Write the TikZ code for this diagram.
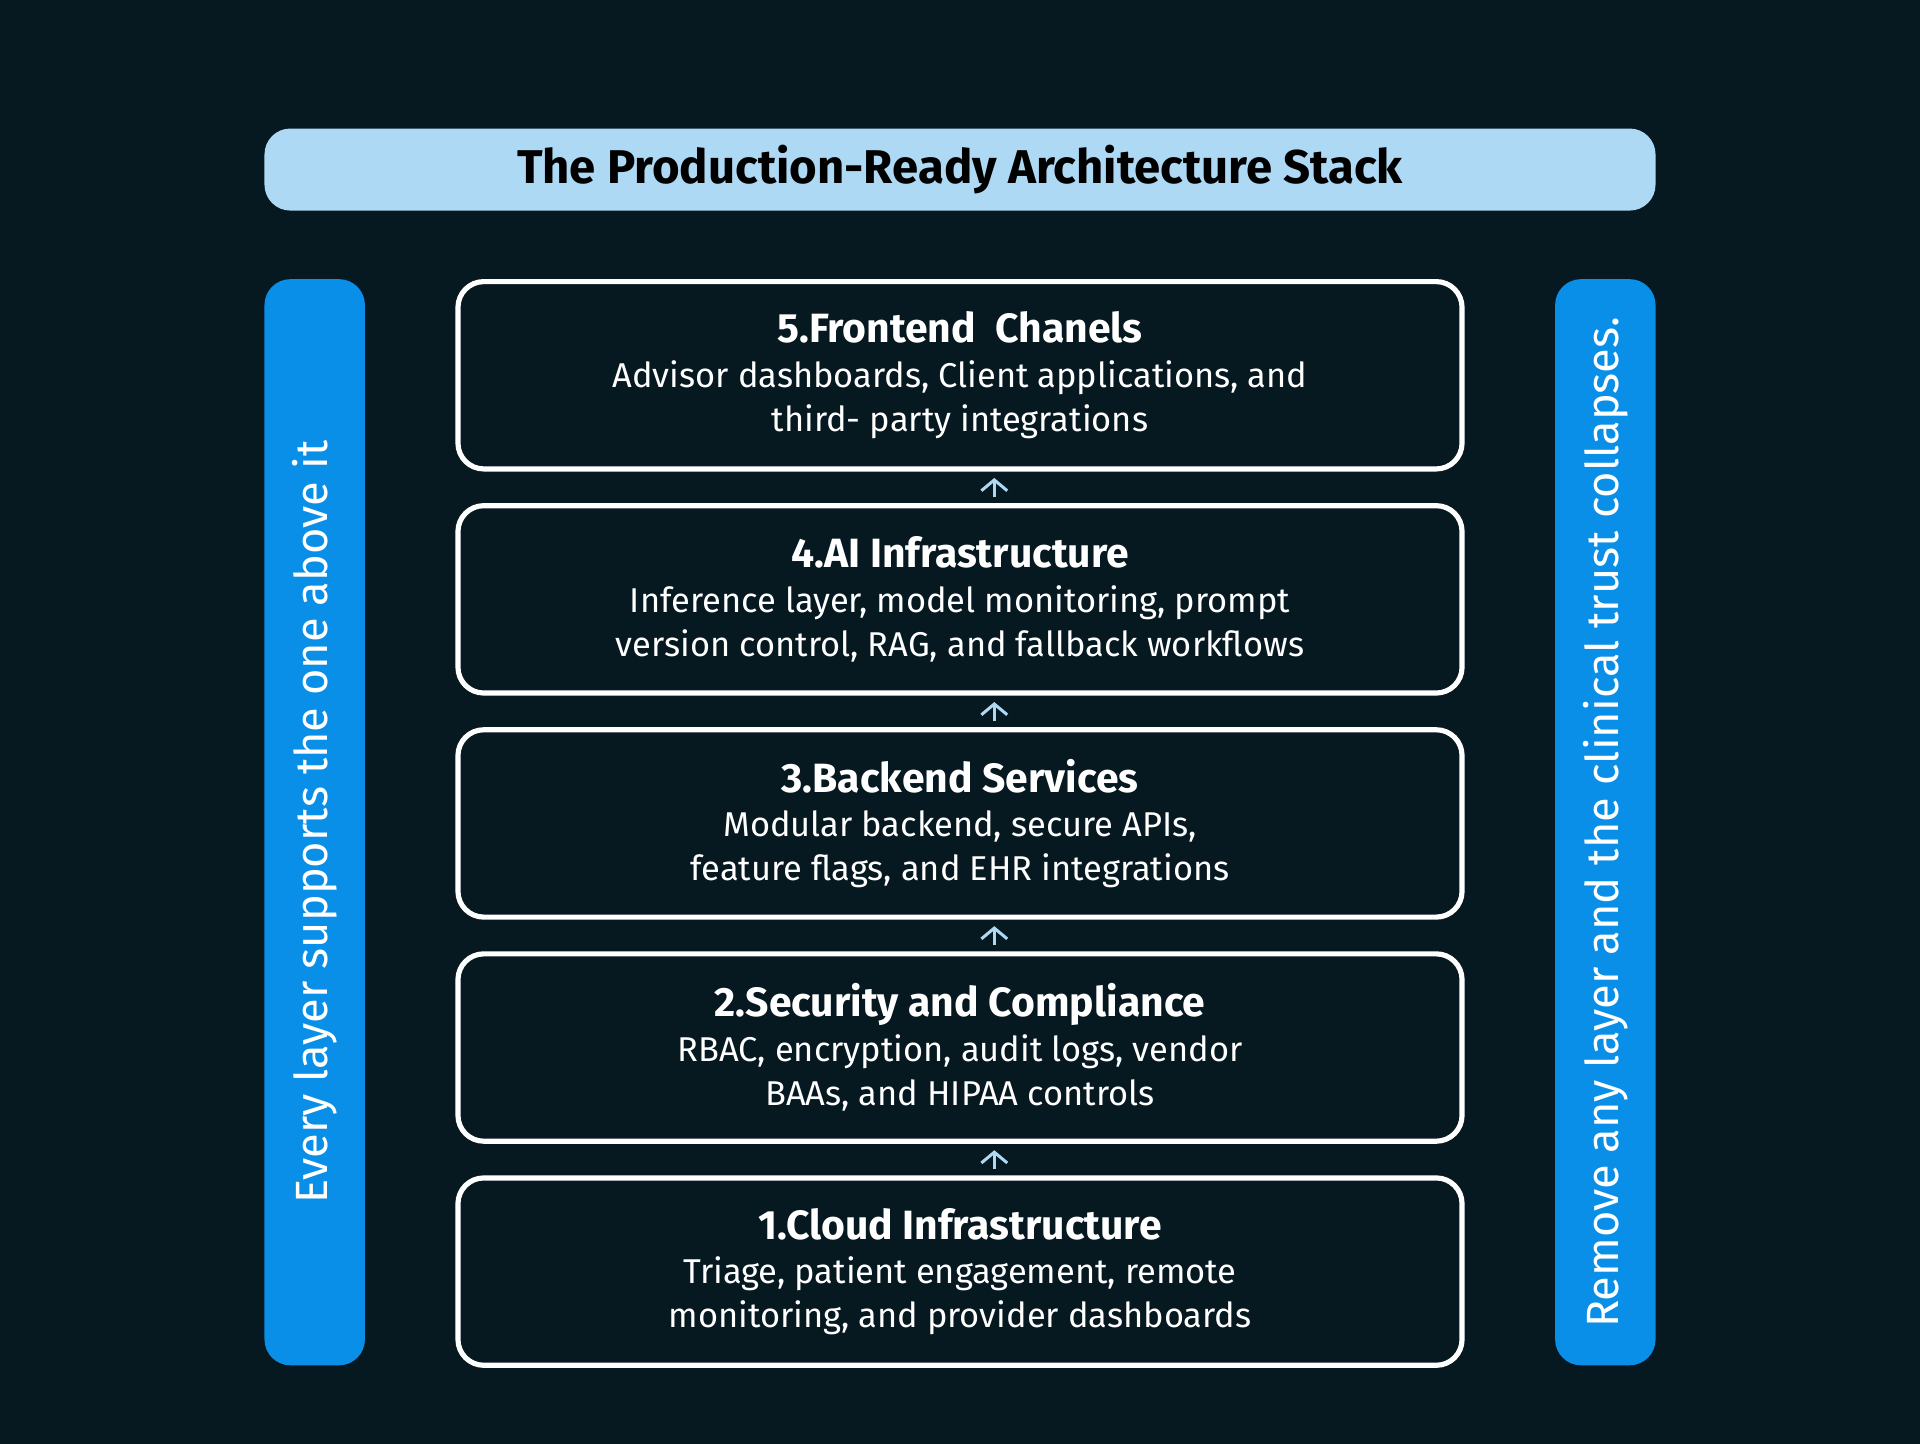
\documentclass[tikz,border=0pt]{standalone}
\usepackage{fontspec}
\setmainfont{Fira Sans}
\usetikzlibrary{arrows.meta, positioning}
\definecolor{bgdark}{HTML}{061820}
\definecolor{titleblue}{HTML}{AED9F5}
\definecolor{sideblue}{HTML}{0A8FE8}
\definecolor{arrblue}{HTML}{AED9F5}
\begin{document}
\begin{tikzpicture}[
  layer/.style={draw=white, line width=1.2pt, rounded corners=6pt, minimum width=8.2cm, minimum height=1.53cm, text=white, align=center, font=\fontsize{8}{10.3}\selectfont},
  side/.style={fill=sideblue, rounded corners=6pt, minimum width=0.82cm, minimum height=8.87cm},
  up/.style={->, >={Straight Barb[length=2.5pt, width=6pt]}, draw=arrblue, line width=0.7pt}]

% background
\fill[bgdark] (0,0) rectangle (15.68,11.79);
\useasboundingbox (0,0) rectangle (15.68,11.79);

% TITLE
\node[fill=titleblue, rounded corners=6pt, minimum width=11.36cm, minimum height=0.67cm, font=\bfseries\fontsize{11}{13}\selectfont] (title) at (7.84,10.405) {The Production-Ready Architecture Stack};

% SIDE BARS
\node[side] (left) at (2.57,5.075) {};
\node[side] (right) at (13.11,5.075) {};
\node[rotate=90, text=white, font=\fontsize{10.5}{13}\selectfont] (leftTxt) at (left) {Every layer supports the one above it};
\node[rotate=90, text=white, font=\fontsize{10.5}{13}\selectfont] (rightTxt) at (right) {Remove any layer and the clinical trust collapses.};

% LAYERS
\node[layer] (l5) at (7.84,8.725) {{\bfseries\fontsize{9.5}{12}\selectfont 5.Frontend\ \ Chanels}\\Advisor dashboards, Client applications, and\\third- party integrations};
\node[layer] (l4) at (7.84,6.895) {{\bfseries\fontsize{9.5}{12}\selectfont 4.AI Infrastructure}\\Inference layer, model monitoring, prompt\\version control, RAG, and fallback workflows};
\node[layer] (l3) at (7.84,5.065) {{\bfseries\fontsize{9.5}{12}\selectfont 3.Backend Services}\\Modular backend, secure APIs,\\feature flags, and EHR integrations};
\node[layer] (l2) at (7.84,3.235) {{\bfseries\fontsize{9.5}{12}\selectfont 2.Security and Compliance}\\RBAC, encryption, audit logs, vendor\\BAAs, and HIPAA controls};
\node[layer] (l1) at (7.84,1.405) {{\bfseries\fontsize{9.5}{12}\selectfont 1.Cloud Infrastructure}\\Triage, patient engagement, remote\\monitoring, and provider dashboards};

% ARROWS
\coordinate (ax) at (8.12,0);
\foreach \a/\b in {l1/l2, l2/l3, l3/l4, l4/l5}
  \draw[up] ([yshift=1.5pt]\a.north -| ax) -- ([yshift=-1.5pt]\b.south -| ax);

\end{tikzpicture}
\end{document}
